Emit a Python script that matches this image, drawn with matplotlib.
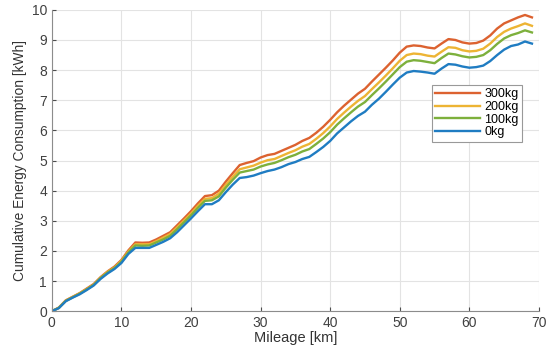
import numpy as np
import matplotlib.pyplot as plt

plt.rcParams['font.family'] = ['Liberation Sans', 'DejaVu Sans']

# mileage in km, one sample per km
mileage = list(range(0, 70))

# cumulative energy consumption [kWh] per payload
e_0kg = [0.00, 0.10, 0.33, 0.45, 0.56, 0.70, 0.85, 1.07, 1.25, 1.40,
         1.60, 1.90, 2.10, 2.10, 2.10, 2.20, 2.30, 2.42, 2.62, 2.85,
         3.08, 3.32, 3.55, 3.55, 3.68, 3.95, 4.20, 4.42, 4.45, 4.50,
         4.58, 4.65, 4.70, 4.78, 4.88, 4.95, 5.05, 5.12, 5.28, 5.45,
         5.65, 5.90, 6.10, 6.30, 6.48, 6.62, 6.85, 7.05, 7.28, 7.52,
         7.75, 7.92, 7.97, 7.95, 7.92, 7.88, 8.05, 8.20, 8.18, 8.12,
         8.08, 8.10, 8.15, 8.30, 8.50, 8.68, 8.80, 8.85, 8.95, 8.88]
e_100kg = [0.00, 0.11, 0.34, 0.46, 0.58, 0.72, 0.87, 1.10, 1.28, 1.43,
           1.64, 1.95, 2.18, 2.17, 2.18, 2.28, 2.38, 2.50, 2.72, 2.95,
           3.18, 3.43, 3.66, 3.68, 3.81, 4.10, 4.36, 4.60, 4.65, 4.70,
           4.80, 4.87, 4.92, 5.01, 5.11, 5.19, 5.30, 5.38, 5.55, 5.73,
           5.94, 6.19, 6.40, 6.60, 6.79, 6.94, 7.17, 7.39, 7.62, 7.86,
           8.10, 8.28, 8.33, 8.31, 8.27, 8.23, 8.40, 8.55, 8.52, 8.46,
           8.42, 8.44, 8.50, 8.66, 8.87, 9.05, 9.16, 9.23, 9.32, 9.25]
e_200kg = [0.00, 0.11, 0.35, 0.47, 0.59, 0.73, 0.88, 1.11, 1.30, 1.45,
           1.67, 1.98, 2.22, 2.22, 2.22, 2.32, 2.44, 2.56, 2.78, 3.01,
           3.24, 3.50, 3.73, 3.75, 3.90, 4.19, 4.46, 4.71, 4.77, 4.83,
           4.93, 5.01, 5.05, 5.15, 5.25, 5.34, 5.46, 5.55, 5.72, 5.91,
           6.13, 6.38, 6.59, 6.79, 6.98, 7.14, 7.37, 7.59, 7.82, 8.06,
           8.31, 8.50, 8.55, 8.53, 8.48, 8.45, 8.61, 8.76, 8.74, 8.66,
           8.62, 8.64, 8.71, 8.88, 9.10, 9.27, 9.38, 9.46, 9.55, 9.47]
e_300kg = [0.00, 0.12, 0.36, 0.48, 0.60, 0.75, 0.90, 1.13, 1.32, 1.48,
           1.70, 2.02, 2.28, 2.27, 2.28, 2.38, 2.50, 2.62, 2.85, 3.08,
           3.32, 3.58, 3.82, 3.85, 4.00, 4.30, 4.58, 4.85, 4.92, 4.98,
           5.10, 5.18, 5.22, 5.32, 5.42, 5.52, 5.65, 5.75, 5.92, 6.12,
           6.35, 6.60, 6.82, 7.02, 7.22, 7.38, 7.62, 7.85, 8.08, 8.32,
           8.58, 8.78, 8.82, 8.80, 8.75, 8.72, 8.88, 9.03, 9.00, 8.92,
           8.88, 8.90, 8.98, 9.15, 9.38, 9.55, 9.65, 9.75, 9.83, 9.75]

labels = ['300kg', '200kg', '100kg', '0kg']
series = [e_300kg, e_200kg, e_100kg, e_0kg]
colors = ['#DC6230', '#EDB434', '#7DB03C', '#1F7CC2']

fig = plt.figure(figsize=(5.46, 3.52), dpi=100)
ax = fig.add_axes([0.095, 0.116, 0.892, 0.856])

for lab, y, c in zip(labels, series, colors):
    ax.plot(mileage, y, color=c, lw=1.7, label=lab)

ax.set_xlim(0, 70)
ax.set_ylim(0, 10)
ax.set_xticks(np.arange(0, 71, 10))
ax.set_yticks(np.arange(0, 11, 1))
ax.grid(True, color='#e3e3e3', lw=0.8)
ax.set_axisbelow(True)

for side in ['top', 'right']:
    ax.spines[side].set_visible(False)
for side in ['left', 'bottom']:
    ax.spines[side].set_color('#8c8c8c')
    ax.spines[side].set_linewidth(0.8)
ax.tick_params(direction='in', length=3, color='#4d4d4d',
               labelsize=10, labelcolor='#404040')

ax.set_xlabel('Mileage [km]', fontsize=10.5, color='#333333', labelpad=1)
ax.set_ylabel('Cumulative Energy Consumption [kWh]', fontsize=9.9,
              color='#333333', labelpad=3)

leg = ax.legend(loc='upper right', bbox_to_anchor=(0.966, 0.752),
                borderaxespad=0, fontsize=9, handlelength=3.6,
                handletextpad=0.3, labelspacing=0.05, borderpad=0.3,
                fancybox=False, framealpha=1, edgecolor='#999999')
leg.get_frame().set_linewidth(0.8)

fig.savefig('out.png', dpi=100)
